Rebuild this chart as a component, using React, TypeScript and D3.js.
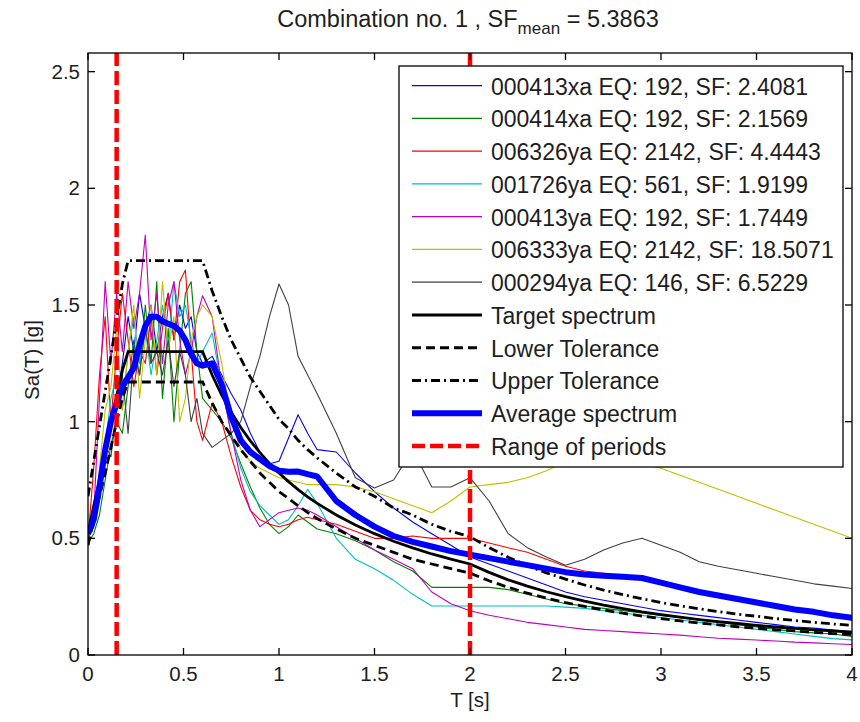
import React from 'react';
import * as d3 from 'd3';

// ---------- DATA ----------
const periods = [
  0, 0.03, 0.06, 0.09, 0.12, 0.15, 0.18, 0.21, 0.24, 0.27, 0.3, 0.33, 0.36, 0.39, 0.42, 0.45, 0.48, 0.51, 0.54, 0.57, 0.6,
  0.65, 0.7, 0.75, 0.8, 0.85, 0.9, 0.95, 1.0, 1.05, 1.1, 1.15, 1.2,
  1.3, 1.4, 1.5, 1.6, 1.7, 1.8, 1.9,
  2.0, 2.1, 2.2, 2.3, 2.4, 2.5, 2.6, 2.7, 2.8, 2.9, 3.0, 3.1, 3.2, 3.3, 3.4, 3.5, 3.6, 3.7, 3.8, 3.9, 4.0,
];

const rec000413xa = [
  0.5, 0.55, 0.7, 0.85, 1.0, 1.1, 1.25, 1.45, 1.3, 1.55, 1.4, 1.5, 1.3, 1.45, 1.55, 1.35, 1.5, 1.4, 1.45, 1.3, 1.25,
  1.28, 1.2, 1.12, 1.05, 0.95, 0.87, 0.82, 0.83, 0.93, 1.03, 0.95, 0.88,
  0.87, 0.78, 0.7, 0.63, 0.57, 0.52, 0.47,
  0.42, 0.39, 0.36, 0.33, 0.3, 0.27, 0.25, 0.235, 0.22, 0.205, 0.19, 0.18, 0.17, 0.16, 0.15, 0.14, 0.13, 0.12, 0.115, 0.107, 0.1,
];
const rec000414xa = [
  0.48, 0.52, 0.6, 0.75, 0.9, 1.0, 0.95, 1.15, 1.35, 1.2, 1.5, 1.25, 1.6, 1.1, 1.4, 1.0, 1.3, 1.55, 1.6, 1.3, 1.1,
  1.05, 1.0, 0.93, 0.82, 0.72, 0.63, 0.56, 0.52, 0.55, 0.6, 0.57, 0.54,
  0.52, 0.49, 0.45, 0.4, 0.36, 0.29, 0.29,
  0.29, 0.29, 0.28, 0.26, 0.24, 0.22, 0.21, 0.2, 0.19, 0.18, 0.17, 0.16, 0.15, 0.14, 0.13, 0.12, 0.11, 0.1, 0.095, 0.09, 0.08,
];
const rec006326ya = [
  0.5, 0.8, 1.2, 1.45, 1.0, 1.3, 1.55, 1.35, 1.15, 1.3, 1.25, 1.45, 1.2, 1.4, 1.55, 1.35, 1.6, 1.65, 1.3, 1.0, 0.92,
  1.08, 1.0, 0.85, 0.72, 0.62, 0.58, 0.56, 0.55, 0.56, 0.58, 0.59, 0.58,
  0.56, 0.53, 0.5, 0.5, 0.51, 0.5, 0.5,
  0.5, 0.48, 0.46, 0.44, 0.41, 0.38, 0.36, 0.35, 0.34, 0.33, 0.31, 0.29, 0.27, 0.255, 0.24, 0.225, 0.21, 0.195, 0.18, 0.165, 0.15,
];
const rec001726ya = [
  0.5, 0.6, 0.7, 0.9, 1.1, 1.2, 1.05, 1.3, 1.45, 1.25, 1.4, 1.2, 1.35, 1.5, 1.3, 1.6, 1.45, 1.5, 1.35, 1.25, 1.3,
  1.38, 1.15, 0.95, 0.8, 0.7, 0.64, 0.6, 0.56, 0.58, 0.64, 0.71, 0.65,
  0.5, 0.41, 0.37, 0.32, 0.26, 0.21, 0.21,
  0.21, 0.21, 0.21, 0.21, 0.21, 0.205, 0.2, 0.19, 0.18, 0.17, 0.16, 0.15, 0.14, 0.13, 0.12, 0.11, 0.1, 0.09, 0.08, 0.07, 0.065,
];
const rec000413ya = [
  0.5, 0.6, 1.1, 1.6, 1.25, 1.55, 1.3, 1.6, 1.4, 1.55, 1.8, 1.35, 1.55, 1.25, 1.5, 1.6, 1.35, 1.2, 1.3, 1.45, 1.54,
  1.45, 1.15, 0.95, 0.75, 0.62, 0.55, 0.58, 0.61, 0.62, 0.63, 0.62, 0.6,
  0.55, 0.5, 0.45, 0.41, 0.37, 0.27, 0.22,
  0.19, 0.17, 0.155, 0.14, 0.13, 0.12, 0.11, 0.105, 0.1, 0.095, 0.09, 0.085, 0.078, 0.072, 0.068, 0.064, 0.06, 0.055, 0.052, 0.048, 0.045,
];
const rec006333ya = [
  0.5, 0.55, 0.8, 1.05, 1.15, 1.4, 1.05, 1.3, 1.5, 1.1, 1.35, 1.5, 1.2, 1.6, 1.3, 1.45, 1.0, 1.1, 1.35, 1.45, 1.5,
  1.45, 1.25, 1.0, 0.88, 0.83, 0.8, 0.78, 0.76, 0.75, 0.74, 0.73, 0.73,
  0.73, 0.72, 0.7, 0.67, 0.64, 0.61, 0.66,
  0.72, 0.73, 0.74, 0.76, 0.79, 0.83, 0.87, 0.88, 0.85, 0.82, 0.8, 0.77, 0.74, 0.71, 0.68, 0.65, 0.62, 0.59, 0.56, 0.53, 0.5,
];
const rec000294ya = [
  0.5, 0.55, 0.75, 0.9, 0.85, 1.05, 1.2, 0.95, 1.3, 1.2, 1.4, 1.25, 1.3, 1.2, 1.35, 1.15, 1.3, 1.2, 1.0, 1.1, 0.95,
  0.89, 0.92, 0.95, 1.0, 1.15, 1.28, 1.45, 1.59, 1.5, 1.28, 1.2, 1.12,
  0.95, 0.76, 0.716, 0.75, 0.88, 0.72, 0.72,
  0.76, 0.66, 0.52, 0.46, 0.42, 0.385, 0.41, 0.45, 0.48, 0.5, 0.47, 0.44, 0.4, 0.38, 0.365, 0.35, 0.335, 0.32, 0.305, 0.295, 0.285,
];

const targetSpectrum = [
  0.52, 0.64, 0.75, 0.87, 0.99, 1.11, 1.22, 1.3, 1.3, 1.3, 1.3, 1.3, 1.3, 1.3, 1.3, 1.3, 1.3, 1.3, 1.3, 1.3, 1.3,
  1.2, 1.114, 1.04, 0.975, 0.918, 0.867, 0.821, 0.78, 0.743, 0.709, 0.678, 0.65,
  0.6, 0.557, 0.52, 0.4875, 0.459, 0.433, 0.411,
  0.39, 0.354, 0.322, 0.295, 0.271, 0.25, 0.231, 0.214, 0.199, 0.185, 0.173, 0.162, 0.152, 0.143, 0.135, 0.127, 0.12, 0.114, 0.108, 0.103, 0.0975,
];
const lowerTolerance = [
  0.47, 0.58, 0.68, 0.78, 0.89, 1.0, 1.1, 1.17, 1.17, 1.17, 1.17, 1.17, 1.17, 1.17, 1.17, 1.17, 1.17, 1.17, 1.17, 1.17, 1.17,
  1.08, 1.0, 0.94, 0.88, 0.83, 0.78, 0.74, 0.7, 0.67, 0.64, 0.61, 0.585,
  0.54, 0.5, 0.47, 0.44, 0.41, 0.39, 0.37,
  0.351, 0.318, 0.29, 0.265, 0.244, 0.225, 0.208, 0.193, 0.179, 0.167, 0.156, 0.146, 0.137, 0.129, 0.121, 0.115, 0.108, 0.103, 0.097, 0.092, 0.088,
];
const upperTolerance = [
  0.68, 0.83, 0.98, 1.13, 1.28, 1.44, 1.59, 1.69, 1.69, 1.69, 1.69, 1.69, 1.69, 1.69, 1.69, 1.69, 1.69, 1.69, 1.69, 1.69, 1.69,
  1.56, 1.45, 1.35, 1.27, 1.19, 1.13, 1.07, 1.01, 0.97, 0.92, 0.88, 0.845,
  0.78, 0.72, 0.68, 0.63, 0.6, 0.56, 0.53,
  0.507, 0.46, 0.419, 0.383, 0.352, 0.325, 0.3, 0.278, 0.259, 0.241, 0.225, 0.211, 0.198, 0.186, 0.175, 0.166, 0.156, 0.148, 0.14, 0.133, 0.127,
];
const averageSpectrum = [
  0.52, 0.58, 0.72, 0.88, 1.0, 1.08, 1.15, 1.19, 1.23, 1.33, 1.41, 1.45, 1.45, 1.43, 1.42, 1.41, 1.39, 1.35, 1.29, 1.25, 1.24,
  1.25, 1.16, 1.02, 0.92, 0.87, 0.84, 0.81, 0.79, 0.785, 0.786, 0.775, 0.765,
  0.66, 0.6, 0.55, 0.51, 0.485, 0.465, 0.445,
  0.43, 0.415, 0.4, 0.385, 0.37, 0.355, 0.345, 0.34, 0.335, 0.33, 0.31, 0.29, 0.27, 0.255, 0.24, 0.225, 0.21, 0.195, 0.185, 0.17, 0.16,
];

const rangeOfPeriods = [0.15, 2.0];

const recordNames = [
  '000413xa EQ: 192, SF: 2.4081',
  '000414xa EQ: 192, SF: 2.1569',
  '006326ya EQ: 2142, SF: 4.4443',
  '001726ya EQ: 561, SF: 1.9199',
  '000413ya EQ: 192, SF: 1.7449',
  '006333ya EQ: 2142, SF: 18.5071',
  '000294ya EQ: 146, SF: 6.5229',
];
const recordValues = [rec000413xa, rec000414xa, rec006326ya, rec001726ya, rec000413ya, rec006333ya, rec000294ya];
const recordColors = ['#0000ff', '#008000', '#ff0000', '#00bfbf', '#bf00bf', '#bfbf00', '#404040'];

const xTicks = [0, 0.5, 1, 1.5, 2, 2.5, 3, 3.5, 4];
const yTicks = [0, 0.5, 1, 1.5, 2, 2.5];

const titleMain = 'Combination no. 1 , SF';
const titleSub = 'mean';
const titleTail = ' = 5.3863';

// ---------- LAYOUT ----------
const W = 860;
const H = 722;
const L = 88, R = 852, TOP = 53, BOT = 655;
const FONT = '"Liberation Sans", Arial, Helvetica, sans-serif';
const TXT = '#1e1e1e';

export default function App() {
  const x = d3.scaleLinear().domain([0, 4]).range([L, R]);
  const y = d3.scaleLinear().domain([0, 2.58]).range([BOT, TOP]);
  const line = d3.line<number>().x((_, i) => x(periods[i])).y((d) => y(d));

  const legendItems = [
    ...recordNames.map((n, i) => ({ label: n, color: recordColors[i], width: 1.2, dash: undefined as string | undefined })),
    { label: 'Target spectrum', color: '#000', width: 3, dash: undefined },
    { label: 'Lower Tolerance', color: '#000', width: 3, dash: '9,5' },
    { label: 'Upper Tolerance', color: '#000', width: 3, dash: '9,4,2,4' },
    { label: 'Average spectrum', color: '#0000ff', width: 6, dash: undefined },
    { label: 'Range of periods', color: '#ff0000', width: 4.5, dash: '13,5' },
  ];

  const legX0 = 399, legX1 = 843, legY0 = 66, legY1 = 467;
  const legRow0 = 85.7, legStep = 32.75;

  return (
    <svg width={W} height={H} style={{ position: 'absolute', left: 0, top: 0, background: '#fff' }} fontFamily={FONT}>
      <rect x={0} y={0} width={W} height={H} fill="#fff" />
      <defs>
        <clipPath id="plotclip">
          <rect x={L} y={TOP} width={R - L} height={BOT - TOP} />
        </clipPath>
      </defs>

      {/* title */}
      <text x={468} y={27} textAnchor="middle" fontSize={23.5} fill={TXT}>
        {titleMain}
        <tspan fontSize={17} dy={7}>{titleSub}</tspan>
        <tspan dy={-7}>{titleTail}</tspan>
      </text>

      <g clipPath="url(#plotclip)">
        {recordValues.map((vals, i) => (
          <path key={i} d={line(vals) || ''} fill="none" stroke={recordColors[i]} strokeWidth={1.1} strokeLinejoin="round" />
        ))}
        <path d={line(targetSpectrum) || ''} fill="none" stroke="#000" strokeWidth={2.8} />
        <path d={line(lowerTolerance) || ''} fill="none" stroke="#000" strokeWidth={2.8} strokeDasharray="9,5" />
        <path d={line(upperTolerance) || ''} fill="none" stroke="#000" strokeWidth={2.8} strokeDasharray="9,4,2,4" />
        <path d={line(averageSpectrum) || ''} fill="none" stroke="#0000ff" strokeWidth={6} strokeLinejoin="round" />
        {rangeOfPeriods.map((t, i) => (
          <line key={i} x1={x(t)} x2={x(t)} y1={BOT} y2={TOP} stroke="#ff0000" strokeWidth={4.5} strokeDasharray="14,5" />
        ))}
      </g>

      {/* axes box */}
      <rect x={L} y={TOP} width={R - L} height={BOT - TOP} fill="none" stroke="#000" strokeWidth={1.3} />
      {xTicks.map((t) => (
        <g key={'x' + t}>
          <line x1={x(t)} x2={x(t)} y1={BOT} y2={BOT - 7} stroke="#000" strokeWidth={1.3} />
          <line x1={x(t)} x2={x(t)} y1={TOP} y2={TOP + 7} stroke="#000" strokeWidth={1.3} />
          <text x={x(t)} y={681} textAnchor="middle" fontSize={20.5} fill={TXT}>{String(t)}</text>
        </g>
      ))}
      {yTicks.map((t) => (
        <g key={'y' + t}>
          <line x1={L} x2={L + 7} y1={y(t)} y2={y(t)} stroke="#000" strokeWidth={1.3} />
          <line x1={R} x2={R - 7} y1={y(t)} y2={y(t)} stroke="#000" strokeWidth={1.3} />
          <text x={80} y={y(t) + 7} textAnchor="end" fontSize={20.5} fill={TXT}>{String(t)}</text>
        </g>
      ))}
      <text x={470} y={707} textAnchor="middle" fontSize={20.5} fill={TXT}>T [s]</text>
      <text transform={`translate(39,360) rotate(-90)`} textAnchor="middle" fontSize={20.5} fill={TXT}>Sa(T) [g]</text>

      {/* legend */}
      <rect x={legX0} y={legY0} width={legX1 - legX0} height={legY1 - legY0} fill="#fff" stroke="#000" strokeWidth={1.3} />
      {legendItems.map((it, i) => {
        const yy = legRow0 + i * legStep;
        return (
          <g key={'l' + i}>
            <line x1={412} x2={482} y1={yy} y2={yy} stroke={it.color} strokeWidth={it.width} strokeDasharray={it.dash} />
            <text x={491} y={yy + 9} fontSize={23} fill={TXT}>{it.label}</text>
          </g>
        );
      })}
    </svg>
  );
}
